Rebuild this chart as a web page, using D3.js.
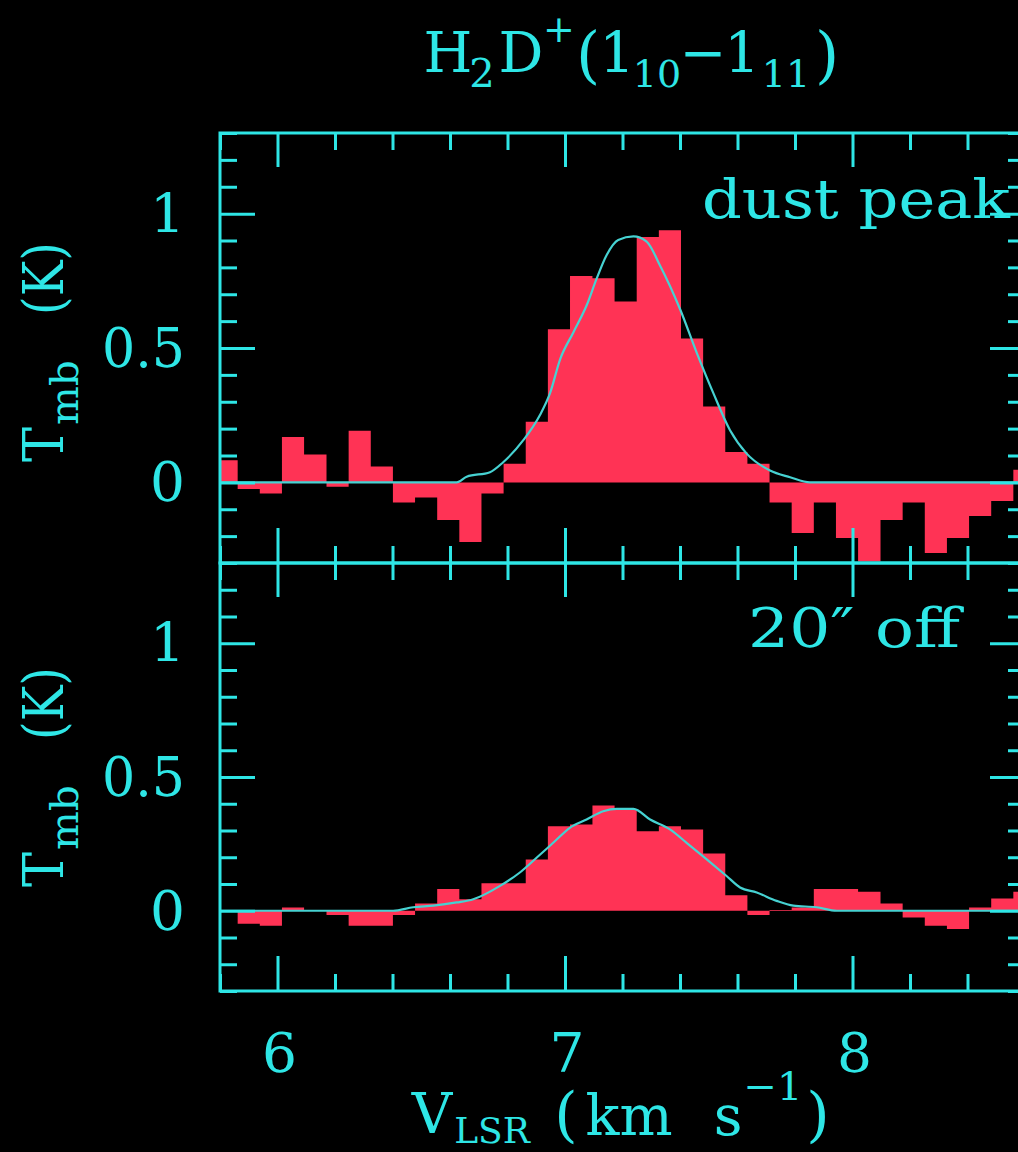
<!DOCTYPE html>
<html>
<head>
<meta charset="utf-8">
<script src="https://cdn.jsdelivr.net/npm/d3@7"></script>
<style>
  html, body { margin: 0; padding: 0; background: #000; }
  svg { display: block; }
  text { font-family: "DejaVu Serif", "Liberation Serif", serif; fill: #2ee6e6; }
</style>
</head>
<body>
<script>
// ---------------- data ----------------
// channel centre velocities (km/s)
const velocity = [5.823, 5.900, 5.977, 6.054, 6.131, 6.209, 6.286, 6.363, 6.440, 6.517,
  6.594, 6.671, 6.748, 6.825, 6.902, 6.979, 7.056, 7.134, 7.211, 7.288,
  7.365, 7.442, 7.519, 7.596, 7.673, 7.750, 7.827, 7.904, 7.981, 8.058,
  8.136, 8.213, 8.290, 8.367, 8.444, 8.521, 8.598];
const channelWidth = 0.0771;

// T_mb (K) at the dust peak
const dustPeak = [0.082, -0.025, -0.041, 0.169, 0.104, -0.016, 0.192, 0.059, -0.075, -0.056,
  -0.140, -0.222, -0.041, 0.069, 0.226, 0.570, 0.768, 0.760, 0.673, 0.913,
  0.938, 0.535, 0.282, 0.113, 0.069, -0.075, -0.188, -0.075, -0.207, -0.294,
  -0.140, -0.075, -0.263, -0.207, -0.125, -0.069, 0.047];

// T_mb (K) 20" off
const offPos = [0.000, -0.049, -0.056, 0.012, 0.000, -0.016, -0.056, -0.056, -0.016, 0.027,
  0.081, 0.043, 0.103, 0.103, 0.192, 0.316, 0.322, 0.393, 0.378, 0.297,
  0.316, 0.304, 0.214, 0.058, -0.016, 0.003, 0.012, 0.081, 0.081, 0.071,
  0.027, -0.025, -0.056, -0.068, 0.012, 0.046, 0.071];

// fitted profiles
const fitVelUpper = [5.80, 6.623, 6.658, 6.739, 6.785, 6.855, 6.913, 6.948, 6.983, 7.029,
  7.075, 7.110, 7.145, 7.185, 7.238, 7.284, 7.330, 7.400, 7.458, 7.516,
  7.574, 7.632, 7.713, 7.783, 7.852, 8.60];
const fitUpper = [0, 0, 0.021, 0.038, 0.075, 0.157, 0.251, 0.332, 0.458, 0.558,
  0.658, 0.758, 0.846, 0.902, 0.915, 0.896, 0.808, 0.645, 0.483, 0.332,
  0.194, 0.107, 0.044, 0.019, 0, 0];

const fitVelLower = [5.80, 6.402, 6.472, 6.542, 6.623, 6.681, 6.774, 6.843, 6.902, 6.959,
  7.017, 7.075, 7.133, 7.180, 7.238, 7.296, 7.365, 7.423, 7.493, 7.562,
  7.609, 7.667, 7.736, 7.794, 7.875, 7.945, 8.60];
const fitLower = [0, 0, 0.013, 0.019, 0.031, 0.043, 0.093, 0.143, 0.199, 0.254,
  0.310, 0.341, 0.372, 0.381, 0.381, 0.341, 0.304, 0.254, 0.192, 0.130,
  0.087, 0.068, 0.037, 0.019, 0.013, 0, 0];

const panelLabels = ["dust peak", "20\u2033 off"];
const xTickLabels = [6, 7, 8];
const yTickLabels = [0, 0.5, 1];

// ---------------- drawing ----------------
const W = 1018, H = 1152;
const CYAN = "#2ee6e6", FIT = "#46d2d2", RED = "#ff3355";
const svg = d3.select("body").append("svg").attr("width", W).attr("height", H)
  .style("background", "#000");

const left = 220, right = 1025;
const x = d3.scaleLinear().domain([5.8, 8.6]).range([left, right]);

const panels = [
  { top: 133, bottom: 563, data: dustPeak, fv: fitVelUpper, fy: fitUpper, label: panelLabels[0], lx: 702, ly: 218, lw: 308, ylab: 462 },
  { top: 563, bottom: 991, data: offPos, fv: fitVelLower, fy: fitLower, label: panelLabels[1], lx: 748, ly: 647, lw: 212, ylab: 887 }
];

const minorX = d3.range(5.8, 8.61, 0.2).map(v => +v.toFixed(2)).filter(v => Math.abs(v - Math.round(v)) > 1e-6);
const majorX = [6, 7, 8];
const minorY = d3.range(-0.3, 1.31, 0.1).map(v => +v.toFixed(2)).filter(v => Math.abs(v * 2 - Math.round(v * 2)) > 1e-6);
const majorY = [0, 0.5, 1];

function styleAxis(g) {
  g.select(".domain").remove();
  g.selectAll(".tick line").attr("stroke", CYAN).attr("stroke-width", 3);
  g.selectAll(".tick text").remove();
}

panels.forEach((p, pi) => {
  const y = d3.scaleLinear().domain([-0.3, 1.3]).range([p.bottom, p.top]);
  const clipId = "clip" + pi;
  svg.append("clipPath").attr("id", clipId).append("rect")
    .attr("x", left).attr("y", p.top).attr("width", right - left).attr("height", p.bottom - p.top);

  // histogram (step) fill
  const pts = velocity.map((v, i) => ({ e: v - channelWidth / 2, t: p.data[i] }));
  const lastV = velocity[velocity.length - 1];
  pts.push({ e: lastV + channelWidth / 2, t: p.data[p.data.length - 1] });
  const area = d3.area().curve(d3.curveStepAfter)
    .x(d => x(d.e)).y0(y(0)).y1(d => y(d.t));
  svg.append("path").datum(pts).attr("clip-path", `url(#${clipId})`)
    .attr("d", area).attr("fill", RED).attr("stroke", "none");

  // fitted profile
  const fitPts = p.fv.map((v, i) => [v, p.fy[i]]);
  const line = d3.line().curve(d3.curveMonotoneX).x(d => x(d[0])).y(d => y(d[1]));
  svg.append("path").datum(fitPts).attr("clip-path", `url(#${clipId})`)
    .attr("d", line).attr("fill", "none").attr("stroke", FIT).attr("stroke-width", 2.2);

  // ticks (inward, all four sides)
  svg.append("g").attr("transform", `translate(0,${p.top})`)
    .call(d3.axisTop(x).tickValues(minorX).tickSize(-17).tickFormat("")).call(styleAxis);
  svg.append("g").attr("transform", `translate(0,${p.top})`)
    .call(d3.axisTop(x).tickValues(majorX).tickSize(-34).tickFormat("")).call(styleAxis);
  svg.append("g").attr("transform", `translate(0,${p.bottom})`)
    .call(d3.axisBottom(x).tickValues(minorX).tickSize(-17).tickFormat("")).call(styleAxis);
  svg.append("g").attr("transform", `translate(0,${p.bottom})`)
    .call(d3.axisBottom(x).tickValues(majorX).tickSize(-35).tickFormat("")).call(styleAxis);
  svg.append("g").attr("transform", `translate(${left},0)`)
    .call(d3.axisLeft(y).tickValues(minorY).tickSize(-17).tickFormat("")).call(styleAxis);
  svg.append("g").attr("transform", `translate(${left},0)`)
    .call(d3.axisLeft(y).tickValues(majorY).tickSize(-35).tickFormat("")).call(styleAxis);
  svg.append("g").attr("transform", `translate(${right},0)`)
    .call(d3.axisRight(y).tickValues(minorY).tickSize(-17).tickFormat("")).call(styleAxis);
  svg.append("g").attr("transform", `translate(${right},0)`)
    .call(d3.axisRight(y).tickValues(majorY).tickSize(-35).tickFormat("")).call(styleAxis);

  // frame
  svg.append("rect").attr("x", left).attr("y", p.top).attr("width", right - left)
    .attr("height", p.bottom - p.top).attr("fill", "none").attr("stroke", CYAN).attr("stroke-width", 3);

  // y tick labels
  yTickLabels.forEach(v => {
    const t = svg.append("text").attr("x", 185).attr("y", y(v) + 19)
      .attr("text-anchor", "end").attr("font-size", 55).text(String(v));
    if (String(v).length > 1) t.attr("textLength", 83).attr("lengthAdjust", "spacingAndGlyphs");
  });

  // panel label
  svg.append("text").attr("x", p.lx).attr("y", p.ly).attr("font-size", 54)
    .attr("textLength", p.lw).attr("lengthAdjust", "spacingAndGlyphs").text(p.label);

  // y axis title (rotated)
  const yl = svg.append("g").attr("transform", `translate(63,${p.ylab}) rotate(-90)`);
  yl.append("text").attr("x", 0).attr("y", 0).attr("font-size", 56)
    .attr("textLength", 35).attr("lengthAdjust", "spacingAndGlyphs").text("T");
  yl.append("text").attr("x", 37).attr("y", 15).attr("font-size", 40)
    .attr("textLength", 65).attr("lengthAdjust", "spacingAndGlyphs").text("mb");
  yl.append("text").attr("x", 147).attr("y", 0).attr("font-size", 56)
    .attr("textLength", 73).attr("lengthAdjust", "spacingAndGlyphs").text("(K)");
});

// x tick labels
xTickLabels.forEach(v => {
  svg.append("text").attr("x", x(v) + 2).attr("y", 1072).attr("text-anchor", "middle")
    .attr("font-size", 55).text(String(v));
});

// x axis title: V_LSR (km s^-1)
const xt = svg.append("g");
const piece = (txt, cx, by, size) => xt.append("text").attr("x", cx).attr("y", by)
  .attr("text-anchor", "middle").attr("font-size", size).text(txt);
piece("V", 432, 1133, 56);
piece("LSR", 492, 1143, 36);
piece("(", 566, 1135, 60);
piece("km", 629, 1135, 56);
piece("s", 728, 1135, 56);
piece("\u22121", 773, 1100, 40);
piece(")", 818, 1135, 60);

// title: H2D+(1_10 - 1_11)
const tt = svg.append("g");
const tp = (txt, cx, by, size) => tt.append("text").attr("x", cx).attr("y", by)
  .attr("text-anchor", "middle").attr("font-size", size).text(txt);
tp("H", 448, 72, 56);
tp("2", 482, 87, 40);
tp("D", 521, 72, 56);
tp("+", 559, 42, 38);
tp("(", 588, 76, 62);
tp("1", 617, 72, 56);
tp("10", 657, 87, 38);
tp("\u2212", 703, 72, 56);
tp("1", 742, 72, 56);
tp("11", 786, 87, 38);
tp(")", 827, 76, 62);
</script>
</body>
</html>
